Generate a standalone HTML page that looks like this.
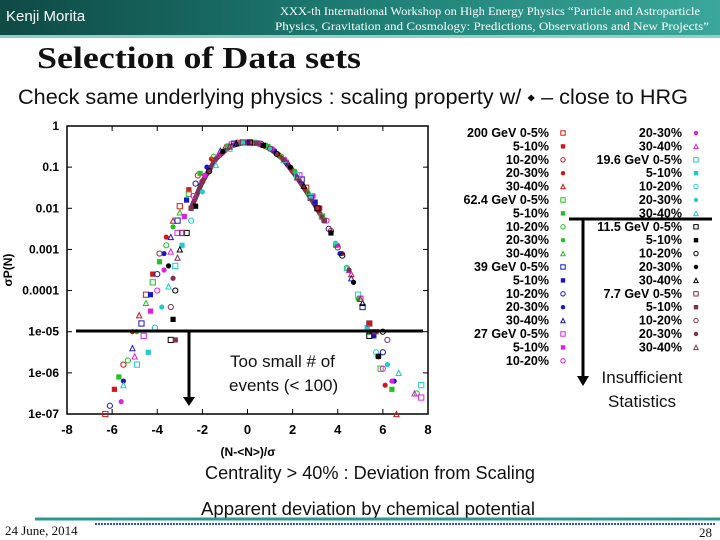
<!DOCTYPE html>
<html><head><meta charset="utf-8"><style>
html,body{margin:0;padding:0;background:#fff;}
svg{display:block;}
text{font-family:"Liberation Sans",sans-serif;}
</style></head><body>
<svg id="slide" width="720" height="540" viewBox="0 0 720 540">
<defs>
<linearGradient id="hdr" x1="0" y1="0" x2="1" y2="0">
<stop offset="0" stop-color="#0f4a45"/><stop offset="0.5" stop-color="#1d7d74"/><stop offset="1" stop-color="#3aa79a"/>
</linearGradient>
</defs>
<g>
<rect x="0" y="0" width="720" height="35" fill="url(#hdr)"/>
<rect x="0" y="35" width="720" height="3" fill="#8fcfc6"/>
<text x="6" y="21" fill="#fff" font-size="15">Kenji Morita</text>
<text x="490" y="15" fill="#fff" font-size="11.5" text-anchor="middle" style="font-family:'Liberation Serif',serif" textLength="420" lengthAdjust="spacingAndGlyphs">XXX-th International Workshop on High Energy Physics “Particle and Astroparticle</text>
<text x="492" y="30" fill="#fff" font-size="11.5" text-anchor="middle" style="font-family:'Liberation Serif',serif" textLength="434" lengthAdjust="spacingAndGlyphs">Physics, Gravitation and Cosmology: Predictions, Observations and New Projects”</text>
</g>
<text x="37" y="68" font-size="31" font-weight="bold" style="font-family:'Liberation Serif',serif" fill="#111" textLength="324" lengthAdjust="spacingAndGlyphs">Selection of Data sets</text>
<text x="18" y="104" font-size="21" fill="#111" textLength="670" lengthAdjust="spacingAndGlyphs">Check same underlying physics : scaling property w/ ⬩ – close to HRG</text>

<g id="chart"></g>
<g id="legend"></g>

<g>
<line x1="76" y1="331" x2="423" y2="331" stroke="#000" stroke-width="3"/>
<line x1="189" y1="331" x2="189" y2="398" stroke="#000" stroke-width="3"/>
<polygon points="183,397 195,397 189,406" fill="#000"/>
<text x="230" y="367" font-size="17" fill="#111">Too small # of</text>
<text x="229" y="391" font-size="17" fill="#111">events (&lt; 100)</text>
<line x1="569" y1="219" x2="712" y2="219" stroke="#000" stroke-width="3"/>
<line x1="583" y1="219" x2="583" y2="377" stroke="#000" stroke-width="3"/>
<polygon points="577,376 589,376 583,386" fill="#000"/>
<text x="642" y="383" font-size="17" fill="#111" text-anchor="middle">Insufficient</text>
<text x="642" y="407" font-size="17" fill="#111" text-anchor="middle">Statistics</text>
<text x="370" y="479" font-size="18" fill="#111" text-anchor="middle" textLength="330" lengthAdjust="spacingAndGlyphs">Centrality &gt; 40% : Deviation from Scaling</text>
<text x="368" y="515" font-size="18" fill="#111" text-anchor="middle" textLength="334" lengthAdjust="spacingAndGlyphs">Apparent deviation by chemical potential</text>
</g>
<g>
<line x1="35" y1="519" x2="720" y2="519" stroke="#2a9a90" stroke-width="3"/>
<line x1="95" y1="524" x2="715" y2="524" stroke="#3050c0" stroke-width="2" stroke-dasharray="2,1"/>
<text x="5" y="535" font-size="13" style="font-family:'Liberation Serif',serif" fill="#111">24 June, 2014</text>
<text x="712" y="537" font-size="13" style="font-family:'Liberation Serif',serif" fill="#111" text-anchor="end">28</text>
</g>
</svg>
<script>
var xTicks = [-8,-6,-4,-2,0,2,4,6,8];
var yTickExps = [0,-1,-2,-3,-4,-5,-6,-7];
var yTickLabels = ["1","0.1","0.01","0.001","0.0001","1e-05","1e-06","1e-07"];
var seriesNames = ["200GeV","62.4GeV","39GeV","27GeV","19.6GeV","11.5GeV","7.7GeV"];
var seriesColors = ["#d01818","#22c022","#1818c0","#e020e0","#20cccc","#000000","#803050"];
var xRed = [-6.3,-5.9,-5.5,-5.1,-4.8,-4.5,-4.2,-3.9,-3.6,-3.3,-3.0,-2.6,-2.2,-1.6,-1.0,-0.4,0.2,0.8,1.4,2.0,2.6,3.2,3.7,4.2,4.6,5.0,5.4,5.8,6.1,6.6];
var logRed = [-7.0,-6.4,-5.8,-5.0,-4.6,-4.1,-3.6,-3.1,-2.7,-2.3,-1.95,-1.55,-1.2,-0.8,-0.52,-0.41,-0.40,-0.48,-0.7,-1.05,-1.5,-2.0,-2.55,-3.1,-3.6,-4.2,-4.8,-5.6,-6.3,-7.0];
var xGreen = [-5.7,-5.3,-4.9,-4.5,-4.2,-3.9,-3.6,-3.3,-3.0,-2.6,-2.1,-1.5,-0.9,-0.3,0.3,0.9,1.5,2.1,2.7,3.3,3.9,4.4,4.9,5.4,5.9,6.4,7.5];
var logGreen = [-6.1,-5.7,-5.0,-4.3,-3.8,-3.3,-2.9,-2.45,-2.1,-1.65,-1.15,-0.75,-0.48,-0.40,-0.41,-0.5,-0.75,-1.1,-1.6,-2.2,-2.9,-3.45,-4.2,-5.0,-5.9,-6.4,-6.5];
var xBlue = [-6.1,-5.5,-5.1,-4.7,-4.3,-4.0,-3.7,-3.4,-3.1,-2.7,-2.3,-1.8,-1.2,-0.6,0.0,0.6,1.2,1.8,2.4,3.0,3.6,4.1,4.6,5.1,5.6,6.0,6.5];
var logBlue = [-6.8,-6.2,-5.4,-4.8,-4.1,-3.6,-3.1,-2.7,-2.3,-1.8,-1.4,-1.0,-0.6,-0.43,-0.40,-0.43,-0.6,-0.9,-1.3,-1.85,-2.5,-3.1,-3.7,-4.4,-5.1,-5.5,-6.2];
var xMagenta = [-5.6,-5.0,-4.6,-4.3,-4.0,-3.7,-3.4,-3.1,-2.8,-2.4,-1.9,-1.3,-0.7,-0.1,0.5,1.1,1.7,2.3,2.9,3.5,4.0,4.5,5.0,5.5,6.0,6.4,7.4,7.7];
var logMagenta = [-6.7,-5.6,-5.1,-4.5,-4.0,-3.5,-3.05,-2.6,-2.2,-1.7,-1.2,-0.7,-0.45,-0.40,-0.42,-0.55,-0.82,-1.2,-1.7,-2.3,-2.9,-3.5,-4.2,-5.0,-5.9,-6.2,-6.5,-6.6];
var xCyan = [-5.5,-4.9,-4.4,-4.1,-3.8,-3.5,-3.2,-2.9,-2.5,-2.0,-1.4,-0.8,-0.2,0.4,1.0,1.6,2.2,2.8,3.4,3.9,4.4,4.9,5.3,5.7,6.2,6.7,7.7];
var logCyan = [-6.3,-5.8,-5.5,-4.9,-4.4,-3.9,-3.4,-2.9,-2.3,-1.6,-0.95,-0.55,-0.41,-0.41,-0.55,-0.82,-1.2,-1.7,-2.3,-2.85,-3.45,-4.1,-4.9,-5.5,-5.8,-6.0,-6.3];
var xBlack = [-3.4,-3.3,-3.2,-3.5,-3.0,-2.7,-2.3,-1.7,-1.1,-0.5,0.1,0.7,1.3,1.9,2.5,3.1,3.7,4.2,4.7,5.1,5.4,5.8,6.0];
var logBlack = [-5.2,-4.7,-4.0,-3.4,-3.0,-2.6,-1.95,-1.1,-0.62,-0.42,-0.40,-0.47,-0.68,-1.0,-1.45,-2.0,-2.6,-3.15,-3.8,-4.3,-5.1,-5.6,-5.0];
var xMaroon = [-3.2,-3.4,-3.3,-3.1,-2.9,-2.5,-2.0,-1.4,-0.8,-0.2,0.4,1.0,1.6,2.2,2.8,3.4,4.0,4.5,5.0,5.4,5.7,6.2];
var logMaroon = [-5.2,-4.4,-3.7,-3.2,-2.6,-2.0,-1.35,-0.8,-0.5,-0.40,-0.42,-0.55,-0.82,-1.25,-1.75,-2.3,-2.95,-3.5,-4.2,-4.8,-5.0,-5.2];
var legendLeftLabels = ["200 GeV 0-5%","5-10%","10-20%","20-30%","30-40%","62.4 GeV 0-5%","5-10%","10-20%","20-30%","30-40%","39 GeV 0-5%","5-10%","10-20%","20-30%","30-40%","27 GeV 0-5%","5-10%","10-20%"];
var legendRightLabels = ["20-30%","30-40%","19.6 GeV 0-5%","5-10%","10-20%","20-30%","30-40%","11.5 GeV 0-5%","5-10%","10-20%","20-30%","30-40%","7.7 GeV 0-5%","5-10%","10-20%","20-30%","30-40%"];

var NS="http://www.w3.org/2000/svg";
var L=67,R=428,T=126,B=414;
function sx(v){return L+(v+8)/16*(R-L);}
function sy(e){return T+(0-e)/7*(B-T);}
function mk(tag,attrs,parent){var e=document.createElementNS(NS,tag);for(var k in attrs)e.setAttribute(k,attrs[k]);parent.appendChild(e);return e;}
var chart=document.getElementById('chart');
var frame=mk('rect',{x:L,y:T,width:R-L,height:B-T,fill:'none',stroke:'#000','stroke-width':1.5},chart);


xTicks.forEach(function(t){
  var g=mk('g',{},chart);
  
  
  mk('line',{x1:sx(t),y1:B,x2:sx(t),y2:B-5,stroke:'#000'},g);
  mk('line',{x1:sx(t),y1:T,x2:sx(t),y2:T+5,stroke:'#000'},g);
  var tx=mk('text',{x:sx(t),y:B+20,'text-anchor':'middle','font-size':13,'font-weight':'bold'},g);
  tx.textContent=t;
});
yTickExps.forEach(function(e,i){
  var g=mk('g',{},chart);
  
  
  mk('line',{x1:L,y1:sy(e),x2:L+5,y2:sy(e),stroke:'#000'},g);
  mk('line',{x1:R,y1:sy(e),x2:R-5,y2:sy(e),stroke:'#000'},g);
  var tx=mk('text',{x:L-8,y:sy(e)+4,'text-anchor':'end','font-size':12,'font-weight':'bold'},g);
  tx.textContent=yTickLabels[i];
});
var xt=mk('text',{x:248,y:456,'text-anchor':'middle','font-size':12,'font-weight':'bold'},chart);
xt.textContent='(N-<N>)/σ';


var yt=mk('text',{x:12,y:270,'text-anchor':'middle','font-size':12,'font-weight':'bold',transform:'rotate(-90 12 270)'},chart);
yt.textContent='σP(N)';



function marker(parent,shape,x,y,c,s){
  var e;
  if(shape===0) e=mk('rect',{x:x-s,y:y-s,width:2*s,height:2*s,fill:'none',stroke:c,'stroke-width':1},parent);
  else if(shape===1) e=mk('rect',{x:x-s,y:y-s,width:2*s,height:2*s,fill:c},parent);
  else if(shape===2) e=mk('circle',{cx:x,cy:y,r:s,fill:'none',stroke:c,'stroke-width':1},parent);
  else if(shape===3) e=mk('circle',{cx:x,cy:y,r:s,fill:c},parent);
  else e=mk('polygon',{points:(x-s)+','+(y+s)+' '+(x+s)+','+(y+s)+' '+x+','+(y-s),fill:'none',stroke:c,'stroke-width':1},parent);
  return e;
}
var allX=[xRed,xGreen,xBlue,xMagenta,xCyan,xBlack,xMaroon];
var allLog=[logRed,logGreen,logBlue,logMagenta,logCyan,logBlack,logMaroon];
var core=mk('path',{fill:'none',stroke:'#803050','stroke-width':5,'stroke-linecap':'round','stroke-linejoin':'round'},chart);
var d='';
logMaroon.forEach(function(v,i){ if(xMaroon[i]>=-2.6 && xMaroon[i]<=3.5){ d+=(d?'L':'M')+sx(xMaroon[i]).toFixed(1)+','+sy(v).toFixed(1);} });
core.setAttribute('d',d);


allLog.forEach(function(arr,si){
  var g=mk('g',{},chart);
  
  
  arr.forEach(function(v,i){
    if(v<-7.05) return;
    var m=marker(g,(i+si)%5,sx(allX[si][i]),sy(v),seriesColors[si],2.6);
    
    
  });
});

var lg=document.getElementById('legend');
var legendColorsL=[0,0,0,0,0,1,1,1,1,1,2,2,2,2,2,3,3,3];
var legendColorsR=[3,3,4,4,4,4,4,5,5,5,5,5,6,6,6,6,6];
legendLeftLabels.forEach(function(s,i){
  var y=137+i*13.4;
  var t=mk('text',{x:549,y:y,'text-anchor':'end','font-size':12.5,'font-weight':'bold'},lg);
  t.textContent=s;
  
  
  marker(lg,i%5,563,y-4,seriesColors[legendColorsL[i]],2.2);
});
legendRightLabels.forEach(function(s,i){
  var y=137+i*13.4;
  var t=mk('text',{x:682,y:y,'text-anchor':'end','font-size':12.5,'font-weight':'bold'},lg);
  t.textContent=s;
  
  
  marker(lg,(i+3)%5,696,y-4,seriesColors[legendColorsR[i]],2.2);
});
</script>
</body></html>
